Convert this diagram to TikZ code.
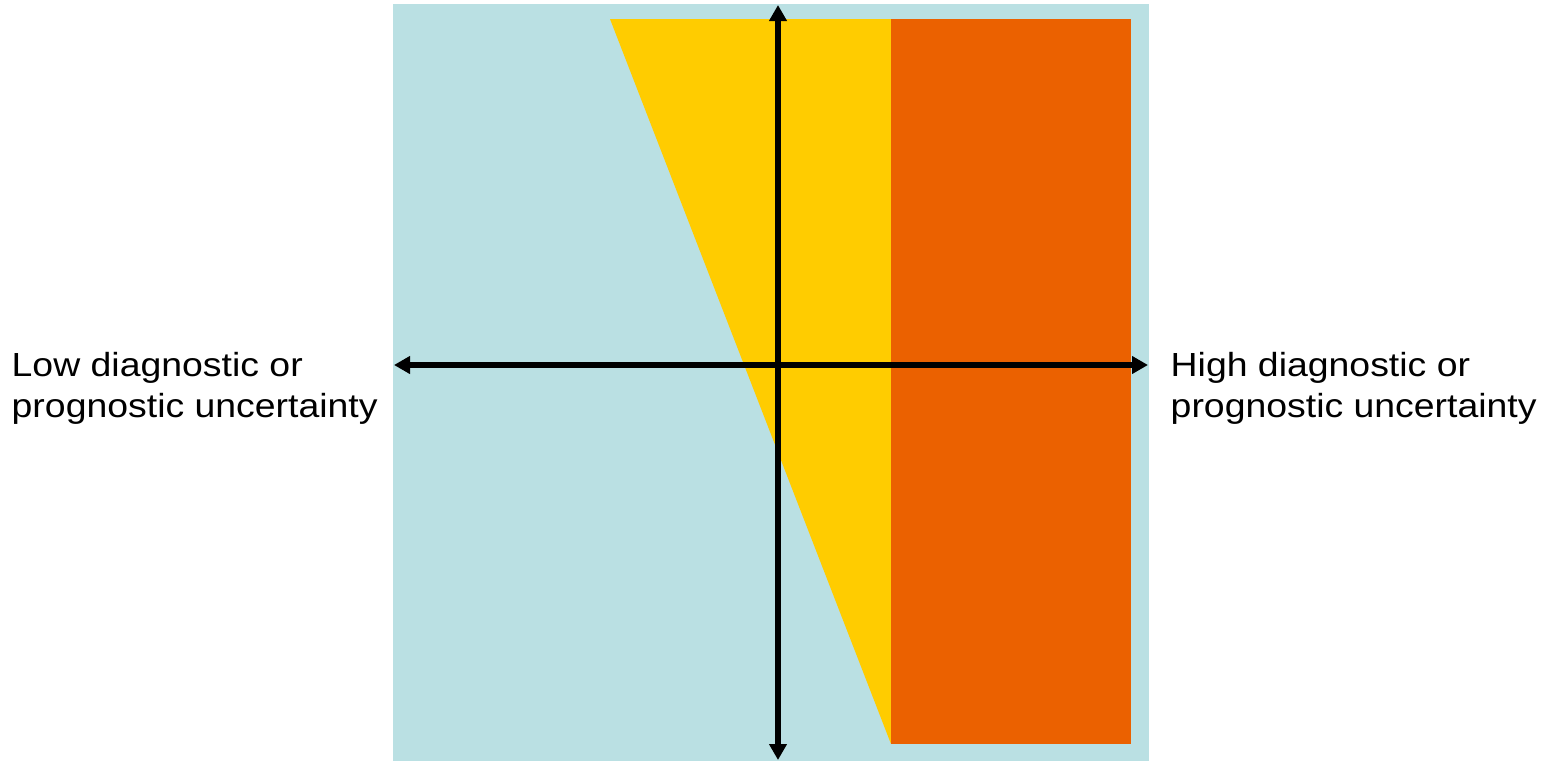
\documentclass[tikz,border=0pt]{standalone}
\usepackage{fontspec}
\setmainfont{Liberation Sans}
\newfontfamily\labelfont[FakeStretch=1.12]{Liberation Sans}
\usetikzlibrary{arrows.meta}

\definecolor{paleblue}{RGB}{186,224,227}
\definecolor{gold}{RGB}{255,204,0}
\definecolor{rust}{RGB}{235,97,0}

\begin{document}
\begin{tikzpicture}[x=1pt, y=-1pt]

% Set the overall frame (pixel units, y going down)
\useasboundingbox (0,0) rectangle (1545,761);

% Define styles for the axes and the side labels
\tikzstyle{axis} = [line width=6pt, {Triangle[width=17pt,length=16pt]}-{Triangle[width=17pt,length=16pt]}]
\tikzstyle{side} = [inner sep=0pt, align=left, anchor=base west,
    font=\labelfont\fontsize{33.4}{40.5}\selectfont]

% Coloured zones
\fill[paleblue] (393,4) rectangle (1149,761);
\fill[gold] (610,19) -- (891,19) -- (891,744) -- cycle;
\fill[rust] (891,19) rectangle (1131,744);

% Axis ends
\coordinate (top) at (778,5);
\coordinate (bottom) at (778,760);
\coordinate (left) at (394,365);
\coordinate (right) at (1148,365);

\draw[axis] (left) -- (right);
\draw[axis] (top) -- (bottom);

% Labels (anchored on the last baseline)
\node[side] (low) at (11.5,417) {Low diagnostic or\\prognostic uncertainty};
\node[side] (high) at (1170.5,417) {High diagnostic or\\prognostic uncertainty};

\end{tikzpicture}
\end{document}
